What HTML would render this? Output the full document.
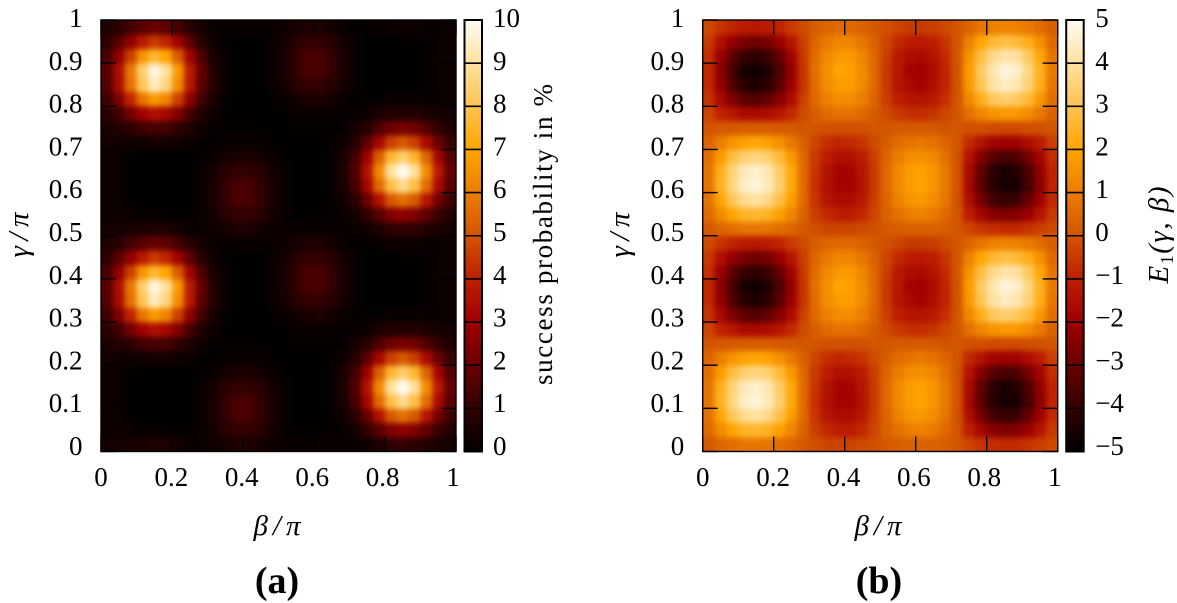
<!DOCTYPE html>
<html lang="en">
<head>
<meta charset="utf-8">
<title>Success probability and energy heatmaps</title>
<style>
html,body{margin:0;padding:0;background:#fff;}
svg{display:block;}
text{font-family:"Liberation Serif",serif;fill:#000;}
.tick{font-size:27px;}
.math{font-size:29px;font-style:italic;}
</style>
</head>
<body>
<svg id="figure" xmlns="http://www.w3.org/2000/svg" width="1177" height="603" viewBox="0 0 1177 603">
<defs>
<filter id="soften" filterUnits="userSpaceOnUse" x="0" y="0" width="1177" height="603" color-interpolation-filters="sRGB"><feGaussianBlur stdDeviation="3"/></filter>
<clipPath id="clip-a"><rect x="101" y="20" width="355" height="431.5"/></clipPath>
<clipPath id="clip-b"><rect x="702.7" y="20" width="355" height="431.5"/></clipPath>
<linearGradient id="cbar-gradient" x1="0" y1="1" x2="0" y2="0"></linearGradient>
</defs>
<g id="panel-a"></g>
<g id="panel-b"></g>
<text class="math" text-anchor="middle" textLength="45" transform="translate(28 235) rotate(-90)">γ/π</text>
<text class="math" text-anchor="middle" textLength="47" x="277" y="535">β/π</text>
<text font-size="27" text-anchor="middle" textLength="301" transform="translate(552 234.5) rotate(-90)">success probability in %</text>
<text font-size="38" font-weight="bold" text-anchor="middle" x="277" y="593">(a)</text>
<text class="math" text-anchor="middle" textLength="45" transform="translate(629 235) rotate(-90)">γ/π</text>
<text class="math" text-anchor="middle" textLength="47" x="878" y="535">β/π</text>
<text font-size="29" font-style="italic" text-anchor="middle" textLength="97" transform="translate(1168 235) rotate(-90)">E<tspan font-size="18" font-style="normal" dy="5">1</tspan><tspan dy="-5">(γ, β)</tspan></text>
<text font-size="38" font-weight="bold" text-anchor="middle" x="879" y="593">(b)</text>
</svg>
<script>
// Axis ticks and labels
const xTickValues = [0, 0.2, 0.4, 0.6, 0.8, 1];
const xTickLabels = ['0', '0.2', '0.4', '0.6', '0.8', '1'];
const yTickValues = [0, 0.1, 0.2, 0.3, 0.4, 0.5, 0.6, 0.7, 0.8, 0.9, 1];
const yTickLabels = ['0', '0.1', '0.2', '0.3', '0.4', '0.5', '0.6', '0.7', '0.8', '0.9', '1'];
const successColorbarTicks = [0, 1, 2, 3, 4, 5, 6, 7, 8, 9, 10];
const successColorbarLabels = ['0', '1', '2', '3', '4', '5', '6', '7', '8', '9', '10'];
const energyColorbarTicks = [-5, -4, -3, -2, -1, 0, 1, 2, 3, 4, 5];
const energyColorbarLabels = ['−5', '−4', '−3', '−2', '−1', '0', '1', '2', '3', '4', '5'];

// Success probability in %. Rows run from gamma = 0 upward, columns from beta = 0 rightward.
const successRows = [
[.4,.4,.5,.5,.6,.6,.4,.2,.2,.3,.4,.6,.6,.4,.3,.2,.2,.2,.2,.2,.2,.2,.3,.6,.9,1.0,.9,.7,.5,.4],
[.3,.3,.2,.1,.2,.1,.1,.1,.2,.4,.8,1.0,1.0,.8,.4,.2,0,.1,.1,.1,.2,.4,1.0,1.7,2.4,2.7,2.4,1.8,1.1,.7],
[.3,.2,.1,0,0,0,0,0,.2,.5,1.0,1.4,1.4,1.0,.5,.2,0,0,0,.1,.3,.9,2.0,3.6,5.1,5.7,5.1,3.7,2.2,1.2],
[.3,.2,.1,0,0,0,0,0,.2,.5,1.0,1.4,1.4,1.0,.5,.2,0,0,0,.2,.5,1.4,3.2,5.5,7.9,8.8,7.9,5.6,3.3,1.7],
[.3,.2,.1,0,0,0,0,0,.2,.4,.8,1.0,1.0,.8,.4,.2,0,0,0,.2,.6,1.6,3.6,6.3,9.0,10,9.0,6.4,3.8,1.9],
[.3,.2,.1,0,0,0,0,0,.1,.2,.4,.5,.5,.4,.2,.1,0,0,0,.2,.5,1.3,3.0,5.3,7.6,8.4,7.6,5.4,3.2,1.6],
[.4,.3,.3,.3,.4,.4,.3,.2,.1,.1,.2,.2,.2,.2,.1,0,0,0,0,.1,.3,.8,1.8,3.2,4.6,5.1,4.6,3.3,2.0,1.1],
[.5,.7,.9,1.2,1.4,1.3,1.0,.6,.3,.1,.1,.1,.1,.1,0,0,.1,.1,.1,.1,.1,.4,.8,1.5,2.1,2.3,2.1,1.6,1.0,.6],
[.8,1.3,2.2,3.0,3.5,3.2,2.4,1.4,.7,.3,.1,0,0,0,0,.1,.2,.2,.2,.2,.1,.2,.3,.5,.7,.7,.7,.6,.4,.4],
[1.2,2.4,4.1,5.8,6.7,6.2,4.6,2.7,1.3,.5,.1,0,0,0,.1,.2,.4,.5,.6,.4,.2,.1,.1,.1,.2,.2,.2,.2,.2,.3],
[1.6,3.3,5.7,8.1,9.4,8.6,6.4,3.8,1.8,.7,.2,0,0,0,.2,.4,.8,1.0,1.0,.8,.4,.2,0,0,0,0,0,.1,.2,.3],
[1.7,3.4,5.9,8.4,9.8,9.0,6.7,3.9,1.9,.7,.2,0,0,0,.2,.5,1.0,1.4,1.4,1.0,.5,.2,0,0,0,0,0,.1,.2,.3],
[1.4,2.7,4.6,6.6,7.6,7.0,5.2,3.1,1.5,.5,.2,0,0,0,.2,.5,1.0,1.4,1.4,1.0,.5,.2,0,0,0,0,0,.1,.2,.3],
[.9,1.7,2.7,3.8,4.5,4.1,3.0,1.8,.8,.3,.1,0,0,0,.2,.4,.8,1.0,1.0,.8,.4,.2,0,0,0,.1,.1,.1,.2,.3],
[.6,.8,1.3,1.7,2.0,1.8,1.3,.8,.4,.2,.2,.2,.2,.2,.2,.3,.4,.6,.6,.4,.2,.1,.1,.2,.3,.3,.3,.2,.2,.3],
[.4,.4,.5,.5,.6,.6,.4,.2,.2,.3,.4,.6,.6,.4,.3,.2,.2,.2,.2,.2,.2,.2,.3,.6,.9,1.0,.9,.7,.5,.4],
[.3,.3,.2,.1,.2,.1,.1,.1,.2,.4,.8,1.0,1.0,.8,.4,.2,0,.1,.1,.1,.2,.4,1.0,1.7,2.4,2.7,2.4,1.8,1.1,.7],
[.3,.2,.1,0,0,0,0,0,.2,.5,1.0,1.4,1.4,1.0,.5,.2,0,0,0,.1,.3,.9,2.0,3.6,5.1,5.7,5.1,3.7,2.2,1.2],
[.3,.2,.1,0,0,0,0,0,.2,.5,1.0,1.4,1.4,1.0,.5,.2,0,0,0,.2,.5,1.4,3.2,5.5,7.9,8.8,7.9,5.6,3.3,1.7],
[.3,.2,.1,0,0,0,0,0,.2,.4,.8,1.0,1.0,.8,.4,.2,0,0,0,.2,.6,1.6,3.6,6.3,9.0,10,9.0,6.4,3.8,1.9],
[.3,.2,.1,0,0,0,0,0,.1,.2,.4,.5,.5,.4,.2,.1,0,0,0,.2,.5,1.3,3.0,5.3,7.6,8.4,7.6,5.4,3.2,1.6],
[.4,.3,.3,.3,.4,.4,.3,.2,.1,.1,.2,.2,.2,.2,.1,0,0,0,0,.1,.3,.8,1.8,3.2,4.6,5.1,4.6,3.3,2.0,1.1],
[.5,.7,.9,1.2,1.4,1.3,1.0,.6,.3,.1,.1,.1,.1,.1,0,0,.1,.1,.1,.1,.1,.4,.8,1.5,2.1,2.3,2.1,1.6,1.0,.6],
[.8,1.3,2.2,3.0,3.5,3.2,2.4,1.4,.7,.3,.1,0,0,0,0,.1,.2,.2,.2,.2,.1,.2,.3,.5,.7,.7,.7,.6,.4,.4],
[1.2,2.4,4.1,5.8,6.7,6.2,4.6,2.7,1.3,.5,.1,0,0,0,.1,.2,.4,.5,.6,.4,.2,.1,.1,.1,.2,.2,.2,.2,.2,.3],
[1.6,3.3,5.7,8.1,9.4,8.6,6.4,3.8,1.8,.7,.2,0,0,0,.2,.4,.8,1.0,1.0,.8,.4,.2,0,0,0,0,0,.1,.2,.3],
[1.7,3.4,5.9,8.4,9.8,9.0,6.7,3.9,1.9,.7,.2,0,0,0,.2,.5,1.0,1.4,1.4,1.0,.5,.2,0,0,0,0,0,.1,.2,.3],
[1.4,2.7,4.6,6.6,7.6,7.0,5.2,3.1,1.5,.5,.2,0,0,0,.2,.5,1.0,1.4,1.4,1.0,.5,.2,0,0,0,0,0,.1,.2,.3],
[.9,1.7,2.7,3.8,4.5,4.1,3.0,1.8,.8,.3,.1,0,0,0,.2,.4,.8,1.0,1.0,.8,.4,.2,0,0,0,.1,.1,.1,.2,.3],
[.6,.8,1.3,1.7,2.0,1.8,1.3,.8,.4,.2,.2,.2,.2,.2,.2,.3,.4,.6,.6,.4,.2,.1,.1,.2,.3,.3,.3,.2,.2,.3]
];

// Energy E1(gamma, beta). Same row and column order.
const energyRows = [
[.1,.4,.6,.8,.8,.8,.6,.4,.1,-.1,-.3,-.3,-.3,-.2,-.1,.1,.2,.3,.3,.3,.2,0,-.3,-.6,-.7,-.8,-.8,-.6,-.4,-.2],
[.5,1.3,2.0,2.5,2.6,2.4,1.9,1.2,.3,-.4,-.8,-1.1,-1.1,-.8,-.3,.3,.7,1.0,1.1,.9,.5,0,-1.0,-1.8,-2.4,-2.6,-2.5,-2.1,-1.3,-.5],
[.7,2.0,3.1,3.8,4.0,3.7,2.9,1.8,.5,-.6,-1.3,-1.6,-1.6,-1.2,-.4,.4,1.1,1.6,1.7,1.4,.8,0,-1.5,-2.7,-3.6,-3.9,-3.8,-3.1,-2.0,-.8],
[.8,2.4,3.6,4.4,4.7,4.3,3.4,2.1,.6,-.7,-1.5,-1.9,-1.9,-1.4,-.5,.5,1.3,1.8,2.0,1.6,.9,0,-1.8,-3.2,-4.2,-4.6,-4.5,-3.7,-2.4,-.9],
[.8,2.3,3.5,4.3,4.5,4.2,3.3,2.1,.6,-.6,-1.4,-1.9,-1.8,-1.3,-.5,.5,1.3,1.8,1.9,1.6,.9,0,-1.7,-3.1,-4.1,-4.5,-4.3,-3.5,-2.3,-.9],
[.6,1.8,2.8,3.4,3.6,3.4,2.7,1.7,.5,-.5,-1.1,-1.5,-1.5,-1.1,-.4,.4,1.0,1.4,1.5,1.3,.7,0,-1.4,-2.5,-3.3,-3.6,-3.5,-2.8,-1.9,-.7],
[.4,1.0,1.6,1.9,2.1,1.9,1.5,.9,.3,-.3,-.7,-.9,-.8,-.6,-.2,.2,.6,.8,.9,.7,.4,0,-.8,-1.4,-1.9,-2.0,-2.0,-1.6,-1.1,-.4],
[0,.1,.1,.2,.2,.2,.1,.1,0,0,-.1,-.1,-.1,-.1,0,0,.1,.1,.1,.1,0,0,-.1,-.1,-.2,-.2,-.2,-.1,-.1,0],
[-.3,-.9,-1.3,-1.7,-1.7,-1.6,-1.3,-.8,-.2,.2,.6,.7,.7,.5,.2,-.2,-.5,-.7,-.7,-.6,-.3,0,.7,1.2,1.6,1.7,1.7,1.4,.9,.3],
[-.6,-1.7,-2.6,-3.2,-3.4,-3.1,-2.5,-1.6,-.4,.5,1.1,1.4,1.4,1.0,.4,-.4,-1.0,-1.3,-1.4,-1.2,-.7,0,1.3,2.3,3.1,3.4,3.2,2.7,1.7,.6],
[-.8,-2.2,-3.4,-4.2,-4.4,-4.1,-3.3,-2.0,-.6,.6,1.4,1.8,1.8,1.3,.5,-.5,-1.3,-1.7,-1.9,-1.5,-.9,0,1.7,3.0,4.0,4.4,4.2,3.5,2.3,.8],
[-.8,-2.4,-3.6,-4.5,-4.7,-4.4,-3.5,-2.2,-.6,.7,1.5,2.0,1.9,1.4,.5,-.5,-1.3,-1.9,-2.0,-1.6,-.9,0,1.8,3.2,4.2,4.7,4.5,3.7,2.4,.9],
[-.7,-2.1,-3.2,-3.9,-4.1,-3.8,-3.1,-1.9,-.5,.6,1.3,1.7,1.7,1.2,.5,-.4,-1.2,-1.6,-1.7,-1.4,-.8,0,1.6,2.8,3.7,4.1,4.0,3.2,2.1,.8],
[-.5,-1.5,-2.2,-2.7,-2.9,-2.7,-2.1,-1.3,-.4,.4,.9,1.2,1.2,.8,.3,-.3,-.8,-1.1,-1.2,-1.0,-.6,0,1.1,2.0,2.6,2.9,2.7,2.3,1.5,.5],
[-.2,-.6,-.9,-1.1,-1.2,-1.1,-.9,-.5,-.2,.2,.4,.5,.5,.3,.1,-.1,-.3,-.5,-.5,-.4,-.2,0,.4,.8,1.1,1.2,1.1,.9,.6,.2],
[.1,.4,.6,.8,.8,.8,.6,.4,.1,-.1,-.3,-.3,-.3,-.2,-.1,.1,.2,.3,.3,.3,.2,0,-.3,-.6,-.7,-.8,-.8,-.6,-.4,-.2],
[.5,1.3,2.0,2.5,2.6,2.4,1.9,1.2,.3,-.4,-.8,-1.1,-1.1,-.8,-.3,.3,.7,1.0,1.1,.9,.5,0,-1.0,-1.8,-2.4,-2.6,-2.5,-2.1,-1.3,-.5],
[.7,2.0,3.1,3.8,4.0,3.7,2.9,1.8,.5,-.6,-1.3,-1.6,-1.6,-1.2,-.4,.4,1.1,1.6,1.7,1.4,.8,0,-1.5,-2.7,-3.6,-3.9,-3.8,-3.1,-2.0,-.8],
[.8,2.4,3.6,4.4,4.7,4.3,3.4,2.1,.6,-.7,-1.5,-1.9,-1.9,-1.4,-.5,.5,1.3,1.8,2.0,1.6,.9,0,-1.8,-3.2,-4.2,-4.6,-4.5,-3.7,-2.4,-.9],
[.8,2.3,3.5,4.3,4.5,4.2,3.3,2.1,.6,-.6,-1.4,-1.9,-1.8,-1.3,-.5,.5,1.3,1.8,1.9,1.6,.9,0,-1.7,-3.1,-4.1,-4.5,-4.3,-3.5,-2.3,-.9],
[.6,1.8,2.8,3.4,3.6,3.4,2.7,1.7,.5,-.5,-1.1,-1.5,-1.5,-1.1,-.4,.4,1.0,1.4,1.5,1.3,.7,0,-1.4,-2.5,-3.3,-3.6,-3.5,-2.8,-1.9,-.7],
[.4,1.0,1.6,1.9,2.1,1.9,1.5,.9,.3,-.3,-.7,-.9,-.8,-.6,-.2,.2,.6,.8,.9,.7,.4,0,-.8,-1.4,-1.9,-2.0,-2.0,-1.6,-1.1,-.4],
[0,.1,.1,.2,.2,.2,.1,.1,0,0,-.1,-.1,-.1,-.1,0,0,.1,.1,.1,.1,0,0,-.1,-.1,-.2,-.2,-.2,-.1,-.1,0],
[-.3,-.9,-1.3,-1.7,-1.7,-1.6,-1.3,-.8,-.2,.2,.6,.7,.7,.5,.2,-.2,-.5,-.7,-.7,-.6,-.3,0,.7,1.2,1.6,1.7,1.7,1.4,.9,.3],
[-.6,-1.7,-2.6,-3.2,-3.4,-3.1,-2.5,-1.6,-.4,.5,1.1,1.4,1.4,1.0,.4,-.4,-1.0,-1.3,-1.4,-1.2,-.7,0,1.3,2.3,3.1,3.4,3.2,2.7,1.7,.6],
[-.8,-2.2,-3.4,-4.2,-4.4,-4.1,-3.3,-2.0,-.6,.6,1.4,1.8,1.8,1.3,.5,-.5,-1.3,-1.7,-1.9,-1.5,-.9,0,1.7,3.0,4.0,4.4,4.2,3.5,2.3,.8],
[-.8,-2.4,-3.6,-4.5,-4.7,-4.4,-3.5,-2.2,-.6,.7,1.5,2.0,1.9,1.4,.5,-.5,-1.3,-1.9,-2.0,-1.6,-.9,0,1.8,3.2,4.2,4.7,4.5,3.7,2.4,.9],
[-.7,-2.1,-3.2,-3.9,-4.1,-3.8,-3.1,-1.9,-.5,.6,1.3,1.7,1.7,1.2,.5,-.4,-1.2,-1.6,-1.7,-1.4,-.8,0,1.6,2.8,3.7,4.1,4.0,3.2,2.1,.8],
[-.5,-1.5,-2.2,-2.7,-2.9,-2.7,-2.1,-1.3,-.4,.4,.9,1.2,1.2,.8,.3,-.3,-.8,-1.1,-1.2,-1.0,-.6,0,1.1,2.0,2.6,2.9,2.7,2.3,1.5,.5],
[-.2,-.6,-.9,-1.1,-1.2,-1.1,-.9,-.5,-.2,.2,.4,.5,.5,.3,.1,-.1,-.3,-.5,-.5,-.4,-.2,0,.4,.8,1.1,1.2,1.1,.9,.6,.2]
];

// Shared colour ramp, equally spaced from the lowest to the highest value.
const colorRamp = [[0,0,0],[50,0,0],[105,0,0],[160,0,0],[190,30,0],[210,85,0],[235,125,0],[255,165,0],[255,195,80],[255,225,160],[255,252,245]];

const SVG_NS = 'http://www.w3.org/2000/svg';

function make(tag, attrs, parent) {
  const el = document.createElementNS(SVG_NS, tag);
  for (const key in attrs) el.setAttribute(key, attrs[key]);
  parent.appendChild(el);
  return el;
}

function rampColor(t) {
  const clamped = Math.max(0, Math.min(1, t));
  const pos = clamped * (colorRamp.length - 1);
  const low = Math.min(Math.floor(pos), colorRamp.length - 2);
  const mix = pos - low;
  const a = colorRamp[low];
  const b = colorRamp[low + 1];
  return 'rgb(' + [0, 1, 2].map(function (c) { return Math.round(a[c] + (b[c] - a[c]) * mix); }).join(',') + ')';
}

const gradient = document.getElementById('cbar-gradient');
colorRamp.forEach(function (c, i) {
  make('stop', { offset: i / (colorRamp.length - 1), 'stop-color': 'rgb(' + c.join(',') + ')' }, gradient);
});

function drawPanel(cfg) {
  const root = document.getElementById(cfg.rootId);
  const plotW = 355;
  const plotH = 431.5;
  const top = 20;
  const bottom = top + plotH;
  const xScale = function (v) { return cfg.left + v * plotW; };
  const yScale = function (v) { return bottom - v * plotH; };
  const xLabelScale = function (v) { return cfg.left + v * 352; };
  const yLabelScale = function (v) { return 455 - v * 428; };
  const colorScale = function (v) { return rampColor((v - cfg.min) / (cfg.max - cfg.min)); };
  const cbarScale = function (v) { return bottom - ((v - cfg.min) / (cfg.max - cfg.min)) * plotH; };

  const clipped = make('g', { 'clip-path': 'url(#' + cfg.clipId + ')' }, root);
  
  
  const soft = make('g', { filter: 'url(#soften)', 'shape-rendering': 'crispEdges' }, clipped);
  const nRows = cfg.rows.length;
  cfg.rows.forEach(function (row, j) {
    const nCols = row.length;
    row.forEach(function (value, i) {
      let x0 = xScale(i / nCols);
      let x1 = xScale((i + 1) / nCols);
      let y0 = yScale((j + 1) / nRows);
      let y1 = yScale(j / nRows);
      if (i === 0) x0 -= 16;
      if (i === nCols - 1) x1 += 16;
      if (j === 0) y1 += 16;
      if (j === nRows - 1) y0 -= 16;
      const cell = make('rect', { x: x0, y: y0, width: x1 - x0 + 0.4, height: y1 - y0 + 0.4, fill: colorScale(value) }, soft);
      
      
    });
  });

  const frame = make('rect', { x: cfg.left, y: top, width: plotW, height: plotH, fill: 'none', stroke: '#000', 'stroke-width': 1.4 }, root);
  
  

  xTickValues.forEach(function (v, k) {
    const x = xScale(v);
    const lower = make('line', { x1: x, x2: x, y1: bottom, y2: bottom - 15, stroke: '#000', 'stroke-width': 1.4 }, root);
    
    
    const upper = make('line', { x1: x, x2: x, y1: top, y2: top + 15, stroke: '#000', 'stroke-width': 1.4 }, root);
    
    
    const label = make('text', { x: xLabelScale(v), y: 486, 'text-anchor': 'middle', class: 'tick' }, root);
    
    
    label.textContent = xTickLabels[k];
  });

  yTickValues.forEach(function (v, k) {
    const y = yScale(v);
    const near = make('line', { x1: cfg.left, x2: cfg.left + 15, y1: y, y2: y, stroke: '#000', 'stroke-width': 1.4 }, root);
    
    
    const far = make('line', { x1: cfg.left + plotW, x2: cfg.left + plotW - 15, y1: y, y2: y, stroke: '#000', 'stroke-width': 1.4 }, root);
    
    
    const label = make('text', { x: cfg.left - 18.5, y: yLabelScale(v), 'text-anchor': 'end', class: 'tick' }, root);
    
    
    label.textContent = yTickLabels[k];
  });

  const bar = make('rect', { x: cfg.left + 363.5, y: top, width: 17.5, height: plotH, fill: 'url(#cbar-gradient)', stroke: '#000', 'stroke-width': 2 }, root);
  
  

  cfg.cbarTicks.forEach(function (v, k) {
    const y = cbarScale(v);
    const mark = make('line', { x1: cfg.left + 363.5, x2: cfg.left + 381, y1: y, y2: y, stroke: '#000', 'stroke-width': 1.6 }, root);
    
    
    const frac = (v - cfg.min) / (cfg.max - cfg.min);
    const label = make('text', { x: cfg.left + cfg.cbarLabelOffset, y: yLabelScale(frac), class: 'tick' }, root);
    
    
    label.textContent = cfg.cbarLabels[k];
  });
}

drawPanel({ rootId: 'panel-a', clipId: 'clip-a', left: 101, rows: successRows, min: 0, max: 10, cbarTicks: successColorbarTicks, cbarLabels: successColorbarLabels, cbarLabelOffset: 392 });
drawPanel({ rootId: 'panel-b', clipId: 'clip-b', left: 702.7, rows: energyRows, min: -5, max: 5, cbarTicks: energyColorbarTicks, cbarLabels: energyColorbarLabels, cbarLabelOffset: 392.5 });
</script>
</body>
</html>
